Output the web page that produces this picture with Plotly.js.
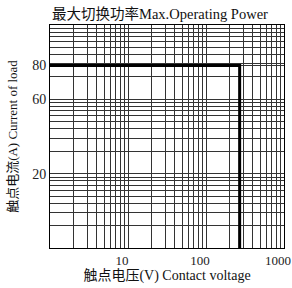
<!DOCTYPE html>
<html>
<head>
<meta charset="utf-8">
<script src="https://cdn.plot.ly/plotly-3.0.1.min.js"></script>
<style>html,body{margin:0;padding:0;background:#fff;}#chart{width:292px;height:288px;}</style>
</head>
<body>
<div id="chart"></div>
<script>
// Log-paper grid positions (volts) on the x axis
const xTickVals = [1,2,3,4,5,6,7,8,9,10,20,30,40,50,60,70,80,90,100,200,300,400,500,600,700,800,900,1000];
const xLabelVals = [10, 100, 1000];
const xLabelText = ['10', '100', '1000'];

// Log-paper grid positions on the y axis (paper scale)
const yTickVals = [1,2,3,4,5,6,7,8,9,10,20,30,40,50,60,70,80,90,100,200,300,400,500,600,700,800,900,1000];
// Current labels printed on the chart and where they sit on the paper scale
const yLabelText = ['20', '60', '80'];
const yLabelPos = [10, 100, 285];

// Max operating power boundary: voltage (V) and position on the paper scale
const powerVolts = [1, 270, 270];
const powerPos = [285, 285, 1];

const serif = 'Liberation Serif, "Noto Sans CJK SC", serif';

function buildText(vals, labelVals, labelText) {
  return vals.map(v => {
    const i = labelVals.indexOf(v);
    return i >= 0 ? labelText[i] : '';
  });
}
const xAllVals = xTickVals;
const xAllText = buildText(xAllVals, xLabelVals, xLabelText);
const yAllVals = yTickVals.concat(yLabelPos.filter(v => yTickVals.indexOf(v) < 0));
const yAllText = buildText(yAllVals, yLabelPos, yLabelText);

const traces = [{
  x: powerVolts, y: powerPos, type: 'scatter', mode: 'lines',
  line: {color: '#000', width: 3}, hoverinfo: 'skip', cliponaxis: false
}];

const layout = {
  width: 292, height: 288,
  margin: {l: 50, r: 8, t: 25, b: 40},
  paper_bgcolor: '#fff', plot_bgcolor: '#fff',
  showlegend: false,
  title: {
    text: '最大切换功率Max.Operating Power',
    font: {family: serif, size: 14.5, color: '#111'},
    x: 0.47, xref: 'paper', xanchor: 'center',
    y: 1 - 14/288, yref: 'container', yanchor: 'middle'
  },
  xaxis: {
    type: 'log', range: [0, 3], autorange: false,
    tickmode: 'array', tickvals: xAllVals, ticktext: xAllText,
    showgrid: true, gridcolor: '#333', gridwidth: 1,
    showline: true, mirror: true, linecolor: '#000', linewidth: 1,
    ticks: '', zeroline: false, automargin: false,
    ticklabeloverflow: 'allow', ticklabelshift: -6,
    tickfont: {family: serif, size: 13, color: '#222'},
    title: {text: '触点电压(V) Contact voltage', font: {family: serif, size: 14, color: '#111'}, standoff: 0}
  },
  yaxis: {
    type: 'log', range: [0, 3], autorange: false,
    tickmode: 'array', tickvals: yAllVals, ticktext: yAllText,
    showgrid: true, gridcolor: '#333', gridwidth: 1,
    showline: true, mirror: true, linecolor: '#000', linewidth: 1,
    ticks: '', zeroline: false, automargin: false,
    tickfont: {family: serif, size: 14, color: '#222'},
    title: {text: '触点电流(A) Current of load', font: {family: serif, size: 13, color: '#111'}, standoff: 11}
  }
};

Plotly.newPlot('chart', traces, layout, {staticPlot: true, displayModeBar: false});
</script>
</body>
</html>
